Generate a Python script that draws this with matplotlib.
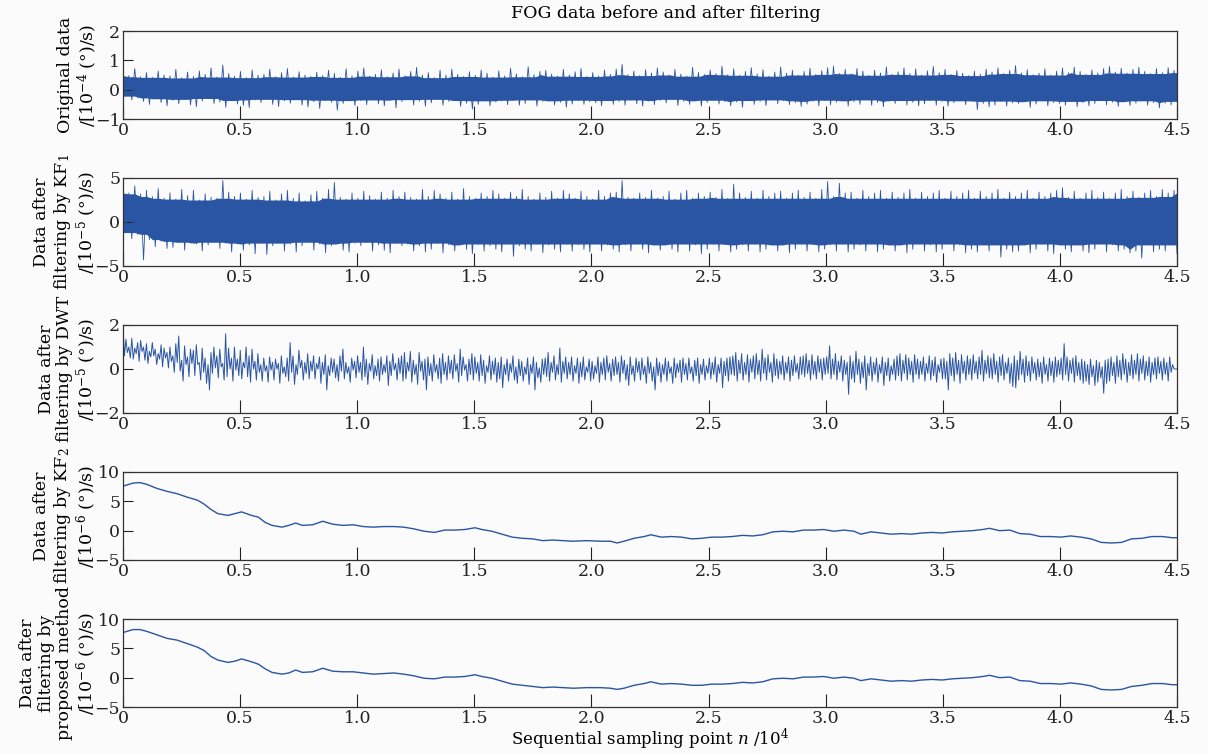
import numpy as np
import matplotlib
matplotlib.use("Agg")
import matplotlib.pyplot as plt

plt.rcParams['font.family'] = 'DejaVu Serif'
plt.rcParams['mathtext.fontset'] = 'dejavuserif'
plt.rcParams['font.size'] = 12.5

BLUE = '#2a55a3'
BG = '#fbfbfb'

# FOG raw output, 10^-4 (deg)/s: (max, min) pairs, 4 pairs per 0.1x10^4 samples
fog_raw = [
    0.66,-0.22, 0.48,-0.35, 0.72,-0.28, 0.44,-0.40,
    0.58,-0.50, 0.42,-0.31, 0.63,-0.44, 0.50,-0.55,
    0.47,-0.36, 0.69,-0.48, 0.40,-0.33, 0.60,-0.52,
    0.45,-0.58, 0.64,-0.39, 0.52,-0.30, 0.74,-0.47,
    0.43,-0.42, 0.84,-0.60, 0.55,-0.37, 0.46,-0.49,
    0.62,-0.53, 0.41,-0.61, 0.67,-0.35, 0.49,-0.44,
    0.52,-0.33, 0.70,-0.50, 0.44,-0.57, 0.58,-0.38,
    0.72,-0.46, 0.43,-0.34, 0.61,-0.52, 0.50,-0.59,
    0.45,-0.41, 0.59,-0.64, 0.48,-0.36, 0.66,-0.43,
    0.55,-0.70, 0.42,-0.47, 0.71,-0.38, 0.47,-0.54,
    0.63,-0.37, 0.74,-0.51, 0.46,-0.35, 0.52,-0.48,
    0.68,-0.55, 0.44,-0.36, 0.57,-0.62, 0.70,-0.41,
    0.47,-0.34, 0.62,-0.52, 0.76,-0.39, 0.49,-0.56,
    0.58,-0.45, 0.41,-0.33, 0.66,-0.53, 0.50,-0.40,
    0.70,-0.37, 0.52,-0.57, 0.45,-0.46, 0.61,-0.66,
    0.49,-0.50, 0.67,-0.38, 0.56,-0.55, 0.43,-0.42,
    0.64,-0.39, 0.47,-0.51, 0.73,-0.36, 0.54,-0.53,
    0.44,-0.47, 0.78,-0.35, 0.51,-0.56, 0.62,-0.40,
    0.66,-0.38, 0.53,-0.52, 0.46,-0.43, 0.69,-0.60,
    0.50,-0.49, 0.61,-0.36, 0.72,-0.50, 0.45,-0.41,
    0.58,-0.44, 0.47,-0.55, 0.67,-0.37, 0.52,-0.50,
    0.70,-0.40, 0.86,-0.53, 0.51,-0.35, 0.63,-0.48,
    0.48,-0.56, 0.68,-0.39, 0.57,-0.51, 0.74,-0.37,
    0.60,-0.45, 0.50,-0.33, 0.69,-0.54, 0.53,-0.40,
    0.46,-0.50, 0.76,-0.38, 0.59,-0.56, 0.52,-0.43,
    0.67,-0.36, 0.55,-0.49, 0.80,-0.41, 0.51,-0.55,
    0.71,-0.42, 0.49,-0.60, 0.62,-0.37, 0.75,-0.50,
    0.53,-0.40, 0.68,-0.54, 0.46,-0.35, 0.60,-0.48,
    0.77,-0.38, 0.56,-0.51, 0.66,-0.44, 0.50,-0.57,
    0.62,-0.49, 0.73,-0.40, 0.52,-0.55, 0.65,-0.36,
    0.75,-0.52, 0.80,-0.43, 0.55,-0.38, 0.69,-0.56,
    0.54,-0.41, 0.72,-0.50, 0.63,-0.35, 0.49,-0.53,
    0.66,-0.44, 0.57,-0.58, 0.78,-0.40, 0.52,-0.47,
    0.61,-0.37, 0.74,-0.52, 0.55,-0.43, 0.71,-0.55,
    0.50,-0.48, 0.64,-0.36, 0.79,-0.53, 0.58,-0.40,
    0.69,-0.56, 0.52,-0.44, 0.65,-0.38, 0.56,-0.51,
    0.48,-0.40, 0.63,-0.68, 0.53,-0.47, 0.70,-0.58,
    0.60,-0.52, 0.74,-0.39, 0.55,-0.56, 0.66,-0.45,
    0.82,-0.47, 0.57,-0.41, 0.68,-0.60, 0.51,-0.49,
    0.56,-0.38, 0.71,-0.55, 0.50,-0.44, 0.63,-0.47,
    0.74,-0.53, 0.58,-0.40, 0.77,-0.58, 0.62,-0.44,
    0.52,-0.55, 0.67,-0.47, 0.57,-0.37, 0.72,-0.52,
    0.79,-0.43, 0.60,-0.57, 0.73,-0.41, 0.56,-0.54,
    0.69,-0.46, 0.76,-0.38, 0.62,-0.53, 0.55,-0.44,
    0.72,-0.62, 0.58,-0.46, 0.75,-0.52, 0.66,-0.40,
]

# after KF1, 10^-5 (deg)/s: (max, min) pairs
kf1 = [
    4.0,-1.2, 3.3,-1.9, 4.1,-1.4, 3.2,-4.3,
    3.6,-2.0, 2.9,-2.8, 3.8,-2.2, 2.7,-3.0,
    3.3,-2.9, 2.6,-2.3, 3.7,-3.2, 3.0,-2.4,
    3.6,-2.5, 2.5,-3.3, 3.2,-2.6, 2.8,-2.3,
    2.7,-3.0, 4.7,-2.4, 3.4,-3.4, 2.9,-2.5,
    3.3,-3.2, 2.6,-2.6, 3.6,-3.6, 2.8,-2.4,
    2.9,-3.7, 3.5,-2.7, 2.5,-2.4, 3.2,-3.3,
    3.6,-2.5, 2.7,-3.4, 3.3,-2.7, 2.4,-2.3,
    3.1,-3.2, 3.5,-2.5, 2.7,-3.5, 3.7,-2.7,
    4.5,-2.5, 2.8,-3.2, 2.6,-3.4, 3.3,-2.4,
    2.7,-2.7, 3.5,-2.3, 3.0,-3.3, 2.6,-2.6,
    3.4,-3.2, 2.7,-3.5, 3.6,-2.4, 2.9,-2.7,
    3.4,-2.5, 2.8,-3.3, 2.6,-2.7, 3.7,-3.4,
    2.9,-3.1, 3.6,-2.4, 3.2,-3.5, 2.7,-2.6,
    3.4,-3.3, 2.6,-2.6, 3.8,-3.1, 2.9,-3.6,
    2.7,-2.5, 3.3,-3.3, 2.9,-2.7, 3.6,-3.1,
    3.2,-3.4, 2.7,-2.5, 3.4,-3.9, 2.9,-2.7,
    3.7,-3.1, 2.9,-3.3, 2.6,-2.5, 3.3,-3.5,
    2.8,-2.6, 3.5,-3.1, 2.7,-3.4, 3.6,-2.5,
    3.2,-3.3, 2.7,-2.6, 3.5,-3.1, 2.9,-3.4,
    2.6,-2.5, 3.6,-3.3, 2.9,-2.6, 3.3,-3.1,
    3.4,-3.4, 4.7,-2.6, 2.8,-3.3, 2.7,-2.5,
    3.3,-3.1, 2.8,-3.5, 3.6,-2.6, 2.7,-3.2,
    2.9,-2.6, 3.5,-3.1, 2.6,-3.4, 3.3,-2.5,
    3.6,-3.3, 2.7,-2.6, 3.3,-3.6, 2.9,-3.1,
    3.4,-2.5, 2.8,-3.3, 3.7,-2.6, 2.7,-3.4,
    4.3,-3.1, 3.3,-2.6, 2.8,-3.3, 3.5,-2.5,
    2.7,-3.4, 3.6,-3.1, 2.9,-2.6, 3.3,-3.3,
    3.5,-2.6, 2.7,-3.5, 3.3,-3.1, 3.6,-2.5,
    2.8,-3.3, 3.4,-2.6, 2.7,-3.4, 3.7,-3.1,
    4.6,-2.6, 2.9,-3.3, 4.4,-2.5, 3.3,-3.4,
    3.4,-3.1, 2.7,-2.6, 3.6,-3.3, 2.9,-2.5,
    3.3,-3.4, 3.6,-3.1, 2.7,-2.6, 3.4,-3.3,
    2.8,-2.6, 3.3,-3.5, 3.7,-3.1, 2.7,-2.5,
    3.4,-3.3, 2.9,-2.6, 3.3,-3.4, 3.6,-3.1,
    2.7,-2.5, 3.5,-3.3, 2.9,-2.6, 3.3,-3.5,
    3.6,-3.1, 2.7,-3.4, 3.5,-2.6, 2.9,-3.3,
    3.3,-2.6, 3.7,-4.0, 2.7,-3.1, 3.4,-3.4,
    2.9,-3.3, 3.3,-2.6, 3.6,-3.5, 2.7,-3.1,
    3.4,-2.5, 2.9,-3.3, 3.3,-3.6, 3.6,-2.6,
    3.9,-3.1, 2.8,-3.4, 3.5,-2.6, 2.7,-3.3,
    3.3,-3.5, 3.6,-3.1, 2.8,-2.5, 3.4,-3.4,
    2.7,-2.6, 3.3,-3.3, 3.7,-3.1, 2.9,-3.5,
    3.5,-3.3, 2.8,-4.1, 3.3,-2.6, 3.6,-3.4,
    2.9,-3.1, 3.7,-3.3, 3.3,-2.6, 3.6,-3.6,
]

# after DWT, 10^-5 (deg)/s: alternating peaks and troughs, 8 swings per 0.1x10^4
dwt = [
    1.9,0.6, 1.35,0.75, 1.0,0.5, 1.4,0.45, 0.95,0.7, 1.2,0.35, 1.3,0.8, 1.0,0.4,
    1.15,0.25, 0.8,0.55, 1.2,0.6, 0.9,0.2, 0.7,0.45, 1.1,0.1, 0.95,0.5, 0.75,0.05,
    1.0,0.35, 0.6,-0.15, 1.15,0.3, 1.5,-0.1, 0.4,-0.55, 1.05,0.2, 0.55,-0.35, 0.9,0.25,
    0.85,-0.3, 1.1,0.2, 0.3,-0.5, 0.95,-0.15, 0.5,-0.65, 0.2,-0.95, 0.75,-0.2, 1.0,0.05,
    0.6,-0.4, 0.9,0.1, 0.25,-0.5, 1.6,-0.35, 0.95,0.0, 0.5,-0.55, 1.0,-0.05, 0.45,-0.3,
    0.85,-0.45, 0.3,0.05, 1.0,-0.35, 0.6,-0.6, 0.9,0.0, 0.35,-0.5, 0.7,-0.15, 0.2,-0.55,
    0.5,-0.1, 0.15,-0.6, 0.55,-0.05, 0.3,-0.5, 0.45,0.0, 0.25,-0.65, 0.6,-0.2, 0.1,-0.35,
    0.5,-0.55, 1.2,-0.15, 0.6,-0.7, 0.2,-0.25, 0.85,0.05, 0.4,-0.5, 0.3,-0.2, 0.7,-0.45,
    0.35,-0.1, 0.6,-0.45, 0.25,0.0, 0.55,-0.65, 0.3,-0.25, 0.65,-0.95, 0.15,-0.3, 0.5,-0.15,
    0.45,-0.4, 0.2,-0.55, 0.6,-0.1, 0.9,-0.45, 0.3,-0.2, 0.1,-0.6, 0.5,-0.05, 0.35,-0.4,
    0.6,-0.15, 0.3,-0.5, 1.0,-0.35, 0.45,-0.7, 0.25,-0.1, 0.65,-0.45, 0.15,-0.3, 0.45,-0.55,
    0.55,-0.25, 0.2,-0.15, 0.6,-0.75, 0.35,-0.3, 0.7,-0.05, 0.25,-0.5, 0.5,-0.2, 0.6,-0.55,
    0.75,-0.45, 0.3,-0.1, 0.8,-0.6, 0.4,-0.25, 0.2,-0.7, 0.75,-0.1, 0.35,-0.5, 0.45,-0.95,
    0.55,-0.3, 0.25,-0.55, 0.65,-0.15, 0.2,-0.45, 0.5,-0.65, 0.7,-0.25, 0.3,-0.5, 0.6,-0.2,
    0.4,-0.45, 0.65,-0.1, 0.25,-0.6, 0.9,-0.3, 0.55,-0.05, 0.2,-0.55, 0.45,-0.25, 0.7,-0.5,
    0.55,-0.2, 0.3,-0.55, 0.65,-0.3, 0.4,-0.65, 0.15,-0.15, 0.6,-0.5, 0.35,-0.25, 0.5,-0.6,
    0.3,-0.45, 0.55,-0.85, 0.2,-0.25, 0.45,-0.55, 0.25,-0.15, 0.6,-0.5, 0.1,-0.65, 0.45,-0.3,
    0.35,-0.55, 0.1,-0.25, 0.5,-0.7, 0.2,-0.2, 0.55,-0.95, 0.3,-0.4, 0.05,-0.6, 0.45,-0.25,
    0.5,-0.35, 0.75,-0.55, 0.3,-0.15, 0.6,-0.5, 0.2,-0.25, 0.95,-0.6, 0.35,-0.2, 0.55,-0.45,
    0.3,-0.25, 0.55,-0.55, 0.15,-0.2, 0.5,-0.65, 0.3,-0.35, 0.55,-0.5, 0.1,-0.15, 0.45,-0.55,
    0.35,-0.45, 0.15,-0.2, 0.55,-0.6, 0.3,-0.25, 0.5,-0.5, 0.6,-0.15, 0.25,-0.55, 0.45,-0.3,
    0.55,-0.25, 0.3,-0.6, 0.6,-0.2, 0.4,-0.5, 0.2,-0.75, 0.55,-0.25, 0.15,-0.55, 0.5,-0.15,
    0.35,-0.5, 0.5,-0.25, 0.15,-0.65, 0.55,-0.2, 0.3,-0.55, 0.1,-0.95, 0.5,-0.3, 0.3,-0.6,
    0.2,-0.25, 0.5,-0.55, 0.35,-0.2, 0.1,-0.65, 0.5,-0.4, 0.25,-0.15, 0.4,-0.6, 0.5,-0.25,
    0.25,-0.5, 0.5,-0.2, 0.1,-0.55, 0.4,-0.3, 0.5,-0.65, 0.2,-0.25, 0.45,-0.5, 0.15,-0.2,
    0.5,-0.45, 0.3,-0.25, 0.55,-0.6, 0.2,-0.2, 0.5,-0.85, 0.35,-0.3, 0.5,-0.55, 0.55,-0.25,
    0.6,-0.3, 0.75,-0.55, 0.4,-0.2, 0.7,-0.5, 0.3,-0.25, 0.65,-0.6, 0.45,-0.15, 0.6,-0.45,
    0.7,-0.25, 0.4,-0.55, 0.9,-0.2, 0.5,-0.5, 0.65,-0.15, 0.3,-0.6, 0.7,-0.3, 0.45,-0.45,
    0.35,-0.25, 0.6,-0.5, 0.3,-0.2, 0.55,-0.55, 0.4,-0.3, 0.6,-0.15, 0.25,-0.45, 0.55,-0.25,
    0.6,-0.35, 0.7,-0.2, 0.4,-0.5, 0.65,-0.25, 0.35,-0.45, 0.6,-0.15, 0.45,-0.5, 0.5,-0.25,
    0.55,-0.2, 1.05,-0.45, 0.45,-0.25, 0.7,-0.5, 0.35,-0.15, 0.6,-0.55, 0.4,-0.25, 0.3,-1.15,
    0.6,-0.45, 0.35,-0.6, 0.8,-0.25, 0.45,-0.65, 0.3,-0.4, 0.6,-0.95, 0.25,-0.3, 0.55,-0.55,
    0.3,-0.25, 0.5,-0.6, 0.2,-0.2, 0.55,-0.75, 0.3,-0.3, 0.5,-0.55, 0.15,-0.25, 0.45,-0.5,
    0.6,-0.3, 0.7,-0.55, 0.4,-0.2, 0.65,-0.5, 0.5,-0.25, 0.35,-0.6, 0.65,-0.25, 0.45,-0.45,
    0.35,-0.25, 0.55,-0.55, 0.25,-0.2, 0.6,-0.5, 0.4,-0.3, 0.55,-0.6, 0.2,-0.15, 0.45,-0.45,
    0.5,-0.45, 0.35,-0.95, 0.7,-0.3, 0.5,-0.55, 0.75,-0.25, 0.4,-0.65, 0.65,-0.2, 0.35,-0.5,
    0.6,-0.25, 0.45,-0.5, 0.65,-0.2, 0.35,-0.45, 0.55,-0.25, 0.85,-0.55, 0.4,-0.2, 0.6,-0.4,
    0.5,-0.45, 0.7,-0.25, 0.35,-0.6, 0.55,-0.3, 0.65,-0.5, 0.3,-0.2, 0.5,-0.65, 0.25,-0.8,
    0.6,-0.85, 0.4,-0.5, 0.8,-0.25, 0.45,-0.6, 0.6,-0.3, 0.35,-0.55, 0.55,-0.2, 0.3,-0.5,
    0.45,-0.35, 0.3,-0.65, 0.55,-0.25, 0.2,-0.55, 0.5,-0.3, 0.35,-0.6, 0.55,-0.35, 0.4,-0.25,
    0.5,-0.5, 1.15,-0.25, 0.55,-0.55, 0.4,-0.2, 0.5,-0.6, 0.6,-0.3, 0.3,-0.5, 0.45,-0.65,
    0.35,-0.55, 0.2,-0.7, 0.45,-0.35, 0.15,-0.75, 0.4,-0.6, 0.3,-0.4, 0.1,-1.1, 0.4,-0.65,
    0.45,-0.55, 0.55,-0.3, 0.3,-0.65, 0.6,-0.35, 0.4,-0.5, 0.7,-0.25, 0.45,-0.6, 0.3,-0.3,
    0.65,-0.45, 0.4,-0.25, 0.7,-0.55, 0.45,-0.2, 0.6,-0.5, 0.35,-0.3, 0.55,-0.6, 0.3,-0.25,
    0.5,-0.45, 0.55,-0.2, 0.35,-0.5, 0.5,-0.25, 0.3,-0.55, 0.55,-0.15, 0.2,0.0, 0.0,0.0,
]

# after KF2 / proposed method, 10^-6 (deg)/s, sampled along n (x10^4)
n_pts = [
    0.000, 0.043, 0.072, 0.101, 0.145, 0.188, 0.231, 0.275, 0.318, 0.347,
    0.376, 0.405, 0.448, 0.477, 0.506, 0.549, 0.578, 0.607, 0.636, 0.679,
    0.708, 0.737, 0.766, 0.809, 0.853, 0.896, 0.939, 0.983, 1.026, 1.069,
    1.113, 1.156, 1.199, 1.243, 1.286, 1.329, 1.373, 1.416, 1.460, 1.503,
    1.532, 1.575, 1.618, 1.662, 1.705, 1.749, 1.792, 1.835, 1.879, 1.922,
    1.980, 2.038, 2.081, 2.110, 2.139, 2.182, 2.225, 2.254, 2.298, 2.341,
    2.384, 2.428, 2.471, 2.514, 2.558, 2.601, 2.645, 2.688, 2.731, 2.775,
    2.818, 2.861, 2.905, 2.948, 2.991, 3.035, 3.078, 3.121, 3.150, 3.194,
    3.237, 3.280, 3.324, 3.367, 3.410, 3.454, 3.497, 3.540, 3.584, 3.627,
    3.671, 3.699, 3.743, 3.786, 3.829, 3.873, 3.916, 3.960, 4.003, 4.046,
    4.090, 4.133, 4.176, 4.220, 4.263, 4.306, 4.350, 4.393, 4.436, 4.480,
    4.500,
]
kf2 = [
    7.6, 8.1, 8.2, 7.9, 7.2, 6.7, 6.3, 5.7, 5.2, 4.5,
    3.6, 2.9, 2.6, 2.9, 3.2, 2.6, 2.3, 1.4, 0.9, 0.6,
    0.9, 1.3, 0.9, 1.0, 1.6, 1.1, 0.9, 1.0, 0.7, 0.6,
    0.7, 0.7, 0.6, 0.3, -0.1, -0.3, 0.1, 0.1, 0.2, 0.5,
    0.2, -0.1, -0.6, -1.1, -1.3, -1.4, -1.7, -1.6, -1.7, -1.8,
    -1.7, -1.8, -1.8, -2.1, -1.8, -1.3, -1.0, -0.7, -1.1, -1.0,
    -1.1, -1.4, -1.3, -1.1, -1.1, -1.0, -0.8, -0.9, -0.7, -0.2,
    -0.1, -0.2, 0.1, 0.1, 0.2, -0.1, 0.1, -0.1, -0.6, -0.2,
    -0.4, -0.6, -0.5, -0.6, -0.4, -0.3, -0.4, -0.2, -0.1, 0.0,
    0.2, 0.4, 0.0, 0.1, -0.5, -0.6, -1.0, -1.0, -1.1, -0.9,
    -1.1, -1.4, -2.0, -2.1, -2.0, -1.4, -1.3, -1.0, -1.0, -1.2,
    -1.2,
]
proposed = [
    7.7, 8.2, 8.2, 7.9, 7.3, 6.7, 6.4, 5.8, 5.2, 4.6,
    3.6, 3.0, 2.6, 2.8, 3.2, 2.7, 2.3, 1.5, 0.9, 0.6,
    0.8, 1.3, 0.9, 1.0, 1.6, 1.1, 1.0, 1.0, 0.8, 0.6,
    0.7, 0.8, 0.6, 0.3, -0.1, -0.2, 0.1, 0.1, 0.2, 0.5,
    0.2, -0.1, -0.6, -1.1, -1.3, -1.5, -1.7, -1.6, -1.7, -1.8,
    -1.7, -1.7, -1.8, -2.0, -1.8, -1.3, -1.0, -0.7, -1.1, -1.0,
    -1.1, -1.3, -1.3, -1.1, -1.1, -1.0, -0.8, -0.9, -0.7, -0.2,
    -0.1, -0.2, 0.1, 0.1, 0.2, -0.1, 0.1, -0.1, -0.5, -0.2,
    -0.4, -0.6, -0.5, -0.6, -0.4, -0.3, -0.4, -0.2, -0.1, 0.0,
    0.2, 0.4, 0.0, 0.1, -0.5, -0.6, -1.0, -1.0, -1.1, -0.9,
    -1.1, -1.4, -2.0, -2.1, -2.0, -1.5, -1.3, -1.0, -1.0, -1.2,
    -1.2,
]

ylabels = [
    'Original data\n/[10$^{-4}$ (°)/s)',
    'Data after\nfiltering by KF$_1$\n/[10$^{-5}$ (°)/s)',
    'Data after\nfiltering by DWT\n/[10$^{-5}$ (°)/s)',
    'Data after\nfiltering by KF$_2$\n/[10$^{-6}$ (°)/s)',
    'Data after\nfiltering by\nproposed method\n/[10$^{-6}$ (°)/s)',
]
ylims = [(-1, 2), (-5, 5), (-2, 2), (-5, 10), (-5, 10)]
yticks = [[-1, 0, 1, 2], [-5, 0, 5], [-2, 0, 2], [-5, 0, 5, 10], [-5, 0, 5, 10]]
xticks = np.arange(0, 4.51, 0.5)
xticklabels = ['0'] + ['%.1f' % v for v in xticks[1:]]


def band(ax, pairs):
    # dense noise: solid core plus a zigzag through each bin's max/min
    v = np.asarray(pairs, dtype=float)
    hi, lo = v[0::2], v[1::2]
    xb = np.linspace(0, 4.5, len(hi))
    k = 2
    win_hi = np.lib.stride_tricks.sliding_window_view(np.pad(hi, k, mode='edge'), 2 * k + 1)
    win_lo = np.lib.stride_tricks.sliding_window_view(np.pad(lo, k, mode='edge'), 2 * k + 1)
    ax.fill_between(xb, win_lo.max(axis=1), win_hi.min(axis=1), color=BLUE, lw=0)
    ax.plot(np.linspace(0, 4.5, len(v)), v, color=BLUE, lw=0.6)


fig = plt.figure(figsize=(12.08, 7.53), dpi=100, facecolor=BG)
left, width, height = 123 / 1208, 1054 / 1208, 88 / 753
bottoms_px = [119, 266, 413, 560, 707]
axes = []
for b in bottoms_px:
    ax = fig.add_axes([left, 1 - b / 753, width, height], facecolor=BG)
    axes.append(ax)

band(axes[0], fog_raw)
band(axes[1], kf1)
axes[2].plot(np.linspace(0, 4.5, len(dwt)), dwt, color=BLUE, lw=0.7)
axes[3].plot(n_pts, kf2, color=BLUE, lw=1.0)
axes[4].plot(n_pts, proposed, color=BLUE, lw=1.0)

for i, ax in enumerate(axes):
    ax.set_xlim(0, 4.5)
    ax.set_ylim(*ylims[i])
    ax.set_xticks(xticks)
    ax.set_xticklabels(xticklabels)
    ax.set_yticks(yticks[i])
    ax.tick_params(axis='x', direction='in', length=9.4, width=0.8, pad=2,
                   colors='#222222', labelsize=12.5)
    ax.tick_params(axis='y', direction='in', length=7.2, width=0.8, pad=2,
                   colors='#222222', labelsize=12.5)
    for s in ax.spines.values():
        s.set_color('#333333')
        s.set_linewidth(0.9)
    ax.set_ylabel(ylabels[i], linespacing=1.1)
    ax.yaxis.set_label_coords(-0.023, 0.5)

fig.text(666 / 1208, 1 - 14 / 753, 'FOG data before and after filtering', ha='center', va='center')
fig.text(650 / 1208, 1 / 753, 'Sequential sampling point $n$ /10$^4$', ha='center', va='bottom',
         fontsize=12)

fig.savefig('out.png', dpi=100, facecolor=BG)
